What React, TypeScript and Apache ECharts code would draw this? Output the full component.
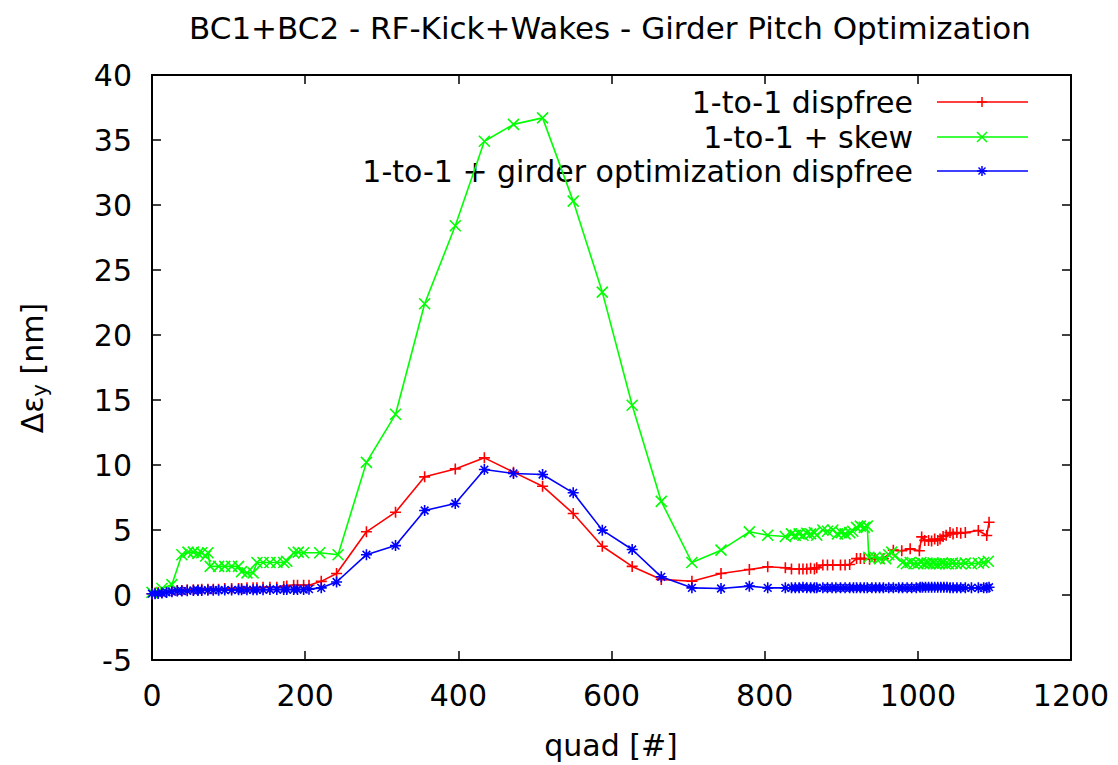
import React, { useEffect, useRef } from "react";
import * as echarts from "echarts";

// ---- data: vertical emittance growth vs. quad index ----
const dispfreeX = [
  0, 4, 8, 13, 19, 26, 33, 39, 46, 54, 60, 65, 73, 80, 87, 95, 104, 113, 117, 124, 132, 137, 145, 154, 163, 172, 176, 185, 190, 198, 205, 221, 241,
  280, 318, 356, 396, 434, 472, 510, 550, 588, 627, 665, 705, 743, 780, 804,
  827, 835, 845, 850, 855, 860, 865, 868, 876, 882, 889, 899, 905, 911, 920, 925, 930, 937, 944, 955, 968, 979, 990, 1002, 1005, 1009, 1014, 1018, 1022, 1026, 1029, 1033, 1037, 1042, 1046, 1051, 1056, 1062, 1079, 1090, 1093,
];
const dispfreeY = [
  0.1, 0.15, 0.2, 0.2, 0.25, 0.3, 0.35, 0.35, 0.4, 0.4, 0.4, 0.45, 0.45, 0.45, 0.45, 0.5, 0.5, 0.5, 0.5, 0.55, 0.55, 0.55, 0.6, 0.6, 0.6, 0.65, 0.7, 0.75, 0.75, 0.75, 0.75, 1.05, 1.65,
  4.86, 6.37, 9.09, 9.7, 10.55, 9.45, 8.37, 6.27, 3.75, 2.2, 1.2, 1.06, 1.65, 1.96, 2.17,
  2.1, 2.0, 2.0, 2.0, 2.0, 2.05, 2.0, 2.1, 2.3, 2.3, 2.3, 2.3, 2.3, 2.35, 2.8, 2.8, 2.8, 2.75, 2.8, 2.8, 3.45, 3.4, 3.55, 3.4, 4.47, 4.2, 4.2, 4.15, 4.3, 4.2, 4.3, 4.5, 4.6, 4.8, 4.7, 4.8, 4.75, 4.8, 4.96, 4.58, 5.6,
];

const skewX = [
  0, 13, 26, 39, 47, 54, 60, 65, 70, 73, 76, 87, 95, 104, 113, 117, 124, 132, 137, 145, 154, 163, 172, 176, 185, 191, 198, 219, 243,
  280, 318, 356, 396, 434, 472, 510, 550, 588, 627, 665, 705, 743, 780, 804,
  827, 835, 840, 845, 850, 855, 860, 865, 868, 876, 882, 889, 895, 900, 905, 911, 915, 920, 925, 930, 934, 936, 944, 950, 958, 962, 966, 970, 980, 985, 990, 995, 1000, 1004, 1008, 1012, 1016, 1020, 1024, 1028, 1032, 1036, 1040, 1045, 1050, 1056, 1062, 1070, 1079, 1086, 1092,
];
const skewY = [
  0.2, 0.5, 0.8, 3.1, 3.3, 3.3, 3.2, 3.25, 3.0, 3.25, 2.2, 2.2, 2.2, 2.2, 2.2, 1.8, 1.7, 1.7, 2.5, 2.5, 2.5, 2.5, 2.5, 2.6, 3.25, 3.3, 3.25, 3.25, 3.1,
  10.2, 13.9, 22.4, 28.4, 34.9, 36.2, 36.7, 30.3, 23.3, 14.6, 7.2, 2.5, 3.45, 4.86, 4.6,
  4.5, 4.7, 4.6, 4.7, 4.6, 4.75, 4.7, 4.8, 4.6, 5.0, 4.9, 5.0, 4.7, 4.8, 4.7, 4.8, 4.9, 5.2, 5.3, 5.2, 5.3, 2.9, 2.9, 2.8, 2.8, 3.1, 3.3, 3.0, 2.5, 2.4, 2.5, 2.4, 2.4, 2.5, 2.4, 2.45, 2.4, 2.45, 2.4, 2.4, 2.45, 2.4, 2.4, 2.45, 2.4, 2.4, 2.45, 2.4, 2.45, 2.5, 2.6,
];

const girderX = [
  0, 4, 8, 13, 19, 26, 33, 39, 46, 54, 60, 65, 73, 80, 87, 95, 104, 113, 117, 124, 132, 137, 145, 154, 163, 172, 176, 185, 190, 198, 205, 221, 241,
  280, 318, 356, 396, 434, 472, 510, 550, 588, 627, 665, 705, 743, 780, 804,
  827, 835, 840, 845, 850, 855, 860, 865, 868, 876, 882, 888, 893, 899, 905, 911, 916, 920, 925, 930, 934, 940, 945, 950, 955, 962, 968, 975, 980, 986, 992, 998, 1003, 1006, 1010, 1014, 1018, 1022, 1026, 1030, 1034, 1038, 1042, 1046, 1051, 1056, 1062, 1070, 1079, 1086, 1090, 1093,
];
const girderY = [
  0.1, 0.1, 0.12, 0.15, 0.2, 0.25, 0.3, 0.3, 0.32, 0.35, 0.35, 0.35, 0.37, 0.37, 0.37, 0.38, 0.38, 0.4, 0.4, 0.4, 0.4, 0.4, 0.4, 0.42, 0.42, 0.42, 0.42, 0.42, 0.42, 0.42, 0.45, 0.55, 1.0,
  3.1, 3.8, 6.5, 7.04, 9.65, 9.35, 9.27, 7.86, 4.99, 3.5, 1.4, 0.55, 0.5, 0.68, 0.55,
  0.55, 0.55, 0.55, 0.55, 0.6, 0.55, 0.55, 0.55, 0.55, 0.55, 0.55, 0.55, 0.55, 0.55, 0.55, 0.55, 0.55, 0.55, 0.55, 0.55, 0.55, 0.55, 0.55, 0.55, 0.55, 0.55, 0.55, 0.55, 0.55, 0.55, 0.55, 0.55, 0.6, 0.6, 0.6, 0.6, 0.6, 0.6, 0.6, 0.6, 0.6, 0.6, 0.55, 0.55, 0.55, 0.55, 0.55, 0.55, 0.55, 0.55, 0.55, 0.6,
];

const seriesNames = [
  "1-to-1 dispfree",
  "1-to-1 + skew",
  "1-to-1 + girder optimization dispfree",
];
const seriesColors = ["#ff0000", "#00ff00", "#0000ff"];

const FONT = "'DejaVu Sans', Verdana, sans-serif";
const FS = 30;

// gnuplot-style point types
const SYMBOLS = {
  plus: "path://M5,0L5,10M0,5L10,5",
  cross: "path://M0,0L10,10M10,0L0,10",
  star: "path://M5,0L5,10M0,5L10,5M1.5,1.5L8.5,8.5M8.5,1.5L1.5,8.5",
};

function pairs(xs: number[], ys: number[]) {
  return xs.map((x, i) => [x, ys[i]]);
}

function markerLines(kind: "plus" | "cross" | "star", cx: number, cy: number, r: number, color: string) {
  const segs: number[][] = [];
  if (kind === "plus" || kind === "star") {
    segs.push([cx - r, cy, cx + r, cy], [cx, cy - r, cx, cy + r]);
  }
  if (kind === "cross") {
    segs.push([cx - r, cy - r, cx + r, cy + r], [cx - r, cy + r, cx + r, cy - r]);
  }
  if (kind === "star") {
    const d = r * 0.7;
    segs.push([cx - d, cy - d, cx + d, cy + d], [cx - d, cy + d, cx + d, cy - d]);
  }
  return segs.map((s) => ({
    type: "line",
    shape: { x1: s[0], y1: s[1], x2: s[2], y2: s[3] },
    style: { stroke: color, lineWidth: 1.5 },
    silent: true,
  }));
}

export default function App() {
  const ref = useRef<HTMLDivElement>(null);

  useEffect(() => {
    if (!ref.current) return;
    const chart = echarts.init(ref.current, undefined, { renderer: "svg" });

    const kinds: ("plus" | "cross" | "star")[] = ["plus", "cross", "star"];
    const datasets = [
      pairs(dispfreeX, dispfreeY),
      pairs(skewX, skewY),
      pairs(girderX, girderY),
    ];

    const legendRows = [102, 137, 171];
    const legendGraphics: any[] = [];
    seriesNames.forEach((name, i) => {
      const y = legendRows[i];
      legendGraphics.push({
        type: "text",
        x: 913,
        y,
        style: { text: name, fill: "#000", font: `${FS}px ${FONT}`, align: "right", verticalAlign: "middle" },
        silent: true,
      });
      legendGraphics.push({
        type: "line",
        shape: { x1: 937, y1: y, x2: 1028, y2: y },
        style: { stroke: seriesColors[i], lineWidth: 1.5 },
        silent: true,
      });
      legendGraphics.push(...markerLines(kinds[i], 982, y, 5, seriesColors[i]));
    });

    const axisCommon = {
      type: "value" as const,
      axisLine: { show: true, onZero: false, lineStyle: { color: "#000", width: 2 } },
      axisTick: { show: true, inside: true, length: 9, lineStyle: { color: "#000", width: 1.5 } },
      splitLine: { show: false },
    };
    const plain = (v: number) => String(v);

    chart.setOption({
      animation: false,
      backgroundColor: "#fff",
      grid: { left: 152, right: 47, top: 75, bottom: 105, containLabel: false },
      xAxis: [
        {
          ...axisCommon,
          position: "bottom",
          min: 0,
          max: 1200,
          interval: 200,
          axisLabel: { color: "#000", fontSize: FS, fontFamily: FONT, margin: 20, formatter: plain },
        },
        {
          ...axisCommon,
          position: "top",
          min: 0,
          max: 1200,
          interval: 200,
          axisLabel: { show: false },
        },
      ],
      yAxis: [
        {
          ...axisCommon,
          position: "left",
          min: -5,
          max: 40,
          interval: 5,
          axisLabel: { color: "#000", fontSize: FS, fontFamily: FONT, margin: 20, formatter: plain },
        },
        {
          ...axisCommon,
          position: "right",
          min: -5,
          max: 40,
          interval: 5,
          axisLabel: { show: false },
        },
      ],
      series: datasets.map((d, i) => ({
        type: "line",
        name: seriesNames[i],
        data: d,
        xAxisIndex: 0,
        yAxisIndex: 0,
        symbol: SYMBOLS[kinds[i]],
        symbolSize: 11,
        showSymbol: true,
        showAllSymbol: true,
        lineStyle: { color: seriesColors[i], width: 1.6 },
        itemStyle: { color: seriesColors[i], borderColor: seriesColors[i], borderWidth: 1.6 },
        emphasis: { disabled: true },
        z: 2 + i,
      })),
      graphic: [
        {
          type: "text",
          x: 610,
          y: 28,
          style: {
            text: "BC1+BC2 - RF-Kick+Wakes - Girder Pitch Optimization",
            fill: "#000",
            font: `31px ${FONT}`,
            align: "center",
            verticalAlign: "middle",
          },
          silent: true,
        },
        {
          type: "text",
          x: 611,
          y: 745,
          style: { text: "quad [#]", fill: "#000", font: `${FS}px ${FONT}`, align: "center", verticalAlign: "middle" },
          silent: true,
        },
        {
          type: "text",
          x: 32,
          y: 368,
          rotation: Math.PI / 2,
          style: {
            text: "{a|Δε}{s|y}{a| [nm]}",
            fill: "#000",
            align: "center",
            verticalAlign: "middle",
            rich: {
              a: { fontSize: FS, fontFamily: FONT, fill: "#000", lineHeight: 36, verticalAlign: "middle" },
              s: { fontSize: 21, fontFamily: FONT, fill: "#000", lineHeight: 36, verticalAlign: "bottom", padding: [14, 0, 0, 0] },
            },
          },
          silent: true,
        },
        ...legendGraphics,
      ],
    });

    return () => chart.dispose();
  }, []);

  return <div ref={ref} style={{ position: "fixed", left: 0, top: 0, width: 1118, height: 765 }} />;
}
